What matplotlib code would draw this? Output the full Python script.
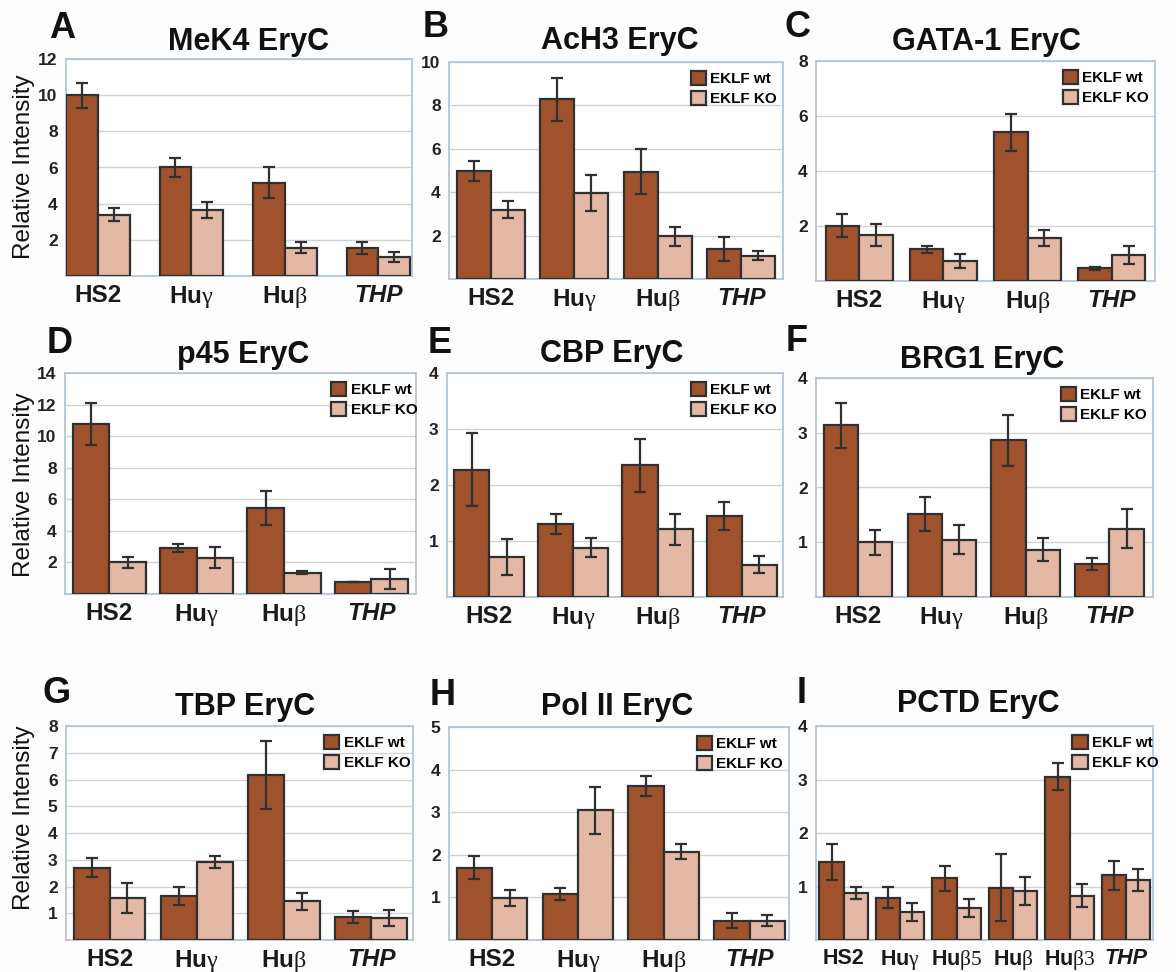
import matplotlib
matplotlib.use("Agg")
import matplotlib.pyplot as plt
import numpy as np

plt.rcParams['font.family'] = ['Liberation Sans', 'DejaVu Sans']
plt.rcParams['mathtext.fontset'] = 'custom'
plt.rcParams['mathtext.rm'] = 'Liberation Serif'
plt.rcParams['mathtext.it'] = 'Liberation Serif:italic'
plt.rcParams['mathtext.bf'] = 'Liberation Sans:bold'

# ---------------- data ----------------
categories4 = ["HS2", "Huγ", "Huβ", "THP"]
categories6 = ["HS2", "Huγ", "Huβ5", "Huβ", "Huβ3", "THP"]
series_labels = ["EKLF wt", "EKLF KO"]

mek4_wt = [10.0, 6.0, 5.15, 1.55]
mek4_wt_err = [0.7, 0.5, 0.85, 0.35]
mek4_ko = [3.4, 3.65, 1.57, 1.05]
mek4_ko_err = [0.37, 0.43, 0.3, 0.25]

ach3_wt = [4.98, 8.28, 4.95, 1.38]
ach3_wt_err = [0.48, 1.0, 1.05, 0.55]
ach3_ko = [3.2, 3.95, 1.96, 1.07]
ach3_ko_err = [0.4, 0.82, 0.45, 0.2]

gata1_wt = [2.01, 1.16, 5.4, 0.46]
gata1_wt_err = [0.42, 0.13, 0.69, 0.05]
gata1_ko = [1.67, 0.73, 1.57, 0.94]
gata1_ko_err = [0.41, 0.24, 0.3, 0.32]

p45_wt = [10.77, 2.9, 5.45, 0.76]
p45_wt_err = [1.35, 0.25, 1.05, 0.03]
p45_ko = [2.0, 2.3, 1.35, 0.95]
p45_ko_err = [0.36, 0.68, 0.1, 0.63]

cbp_wt = [2.27, 1.3, 2.35, 1.45]
cbp_wt_err = [0.65, 0.18, 0.47, 0.25]
cbp_ko = [0.72, 0.88, 1.21, 0.58]
cbp_ko_err = [0.32, 0.17, 0.28, 0.16]

brg1_wt = [3.14, 1.52, 2.86, 0.6]
brg1_wt_err = [0.41, 0.31, 0.47, 0.11]
brg1_ko = [1.0, 1.05, 0.86, 1.25]
brg1_ko_err = [0.23, 0.27, 0.21, 0.35]

tbp_wt = [2.7, 1.65, 6.17, 0.85]
tbp_wt_err = [0.36, 0.33, 1.28, 0.22]
tbp_ko = [1.58, 2.93, 1.45, 0.83]
tbp_ko_err = [0.56, 0.22, 0.32, 0.31]

pol2_wt = [1.7, 1.08, 3.62, 0.45]
pol2_wt_err = [0.27, 0.14, 0.24, 0.18]
pol2_ko = [0.98, 3.04, 2.07, 0.45]
pol2_ko_err = [0.19, 0.55, 0.18, 0.13]

pctd_wt = [1.46, 0.79, 1.15, 0.98, 3.05, 1.21]
pctd_wt_err = [0.33, 0.2, 0.24, 0.62, 0.25, 0.27]
pctd_ko = [0.88, 0.53, 0.6, 0.92, 0.83, 1.12]
pctd_ko_err = [0.11, 0.17, 0.17, 0.26, 0.22, 0.2]

# ---------------- style ----------------
W, H = 1176, 972
WT_COLOR = "#A0522D"
KO_COLOR = "#E3B9A5"
EDGE = "#303030"
SPINE = "#B4C6D6"
GRID = "#D2D2D2"

fig = plt.figure(figsize=(W / 100, H / 100), dpi=100, facecolor="#FDFDFD")


def fx(x):
    return x / W


def fy(y):
    return 1 - y / H


def fmt_cat(c):
    if c.startswith("Hu") and len(c) > 2:
        return "Hu$\\mathrm{" + c[2:] + "}$"
    return c


panels = [
    # letter, title, cats, wt, wt_err, ko, ko_err, ymax, yticks, rect(l,t,r,b), xlim, width, legend x-anchor, title pos, letter pos
    ("A", "MeK4 EryC", categories4, mek4_wt, mek4_wt_err, mek4_ko, mek4_ko_err, 12, [2, 4, 6, 8, 10, 12],
     (66, 59, 412, 276), (-0.34, 3.36), 0.34, None, (249, 50), (49, 38)),
    ("B", "AcH3 EryC", categories4, ach3_wt, ach3_wt_err, ach3_ko, ach3_ko_err, 10, [2, 4, 6, 8, 10],
     (449, 62, 783, 279), (-0.5, 3.5), 0.41, 1.01, (620, 49), (423, 37)),
    ("C", "GATA-1 EryC", categories4, gata1_wt, gata1_wt_err, gata1_ko, gata1_ko_err, 8, [2, 4, 6, 8],
     (816, 61, 1155, 281), (-0.515, 3.515), 0.40, 1.01, (986, 50), (784, 37)),
    ("D", "p45 EryC", categories4, p45_wt, p45_wt_err, p45_ko, p45_ko_err, 14, [2, 4, 6, 8, 10, 12, 14],
     (65, 373, 416, 594), (-0.507, 3.51), 0.42, 1.03, (243, 363), (47, 353)),
    ("E", "CBP EryC", categories4, cbp_wt, cbp_wt_err, cbp_ko, cbp_ko_err, 4, [1, 2, 3, 4],
     (447, 373, 783, 597), (-0.5, 3.49), 0.416, 1.01, (612, 362), (428, 353)),
    ("F", "BRG1 EryC", categories4, brg1_wt, brg1_wt_err, brg1_ko, brg1_ko_err, 4, [1, 2, 3, 4],
     (816, 378, 1153, 597), (-0.5, 3.52), 0.408, 1.01, (982, 368), (786, 351)),
    ("G", "TBP EryC", categories4, tbp_wt, tbp_wt_err, tbp_ko, tbp_ko_err, 8, [1, 2, 3, 4, 5, 6, 7, 8],
     (66, 726, 413, 940), (-0.5, 3.48), 0.41, 1.02, (245, 715), (42, 703)),
    ("H", "Pol II EryC", categories4, pol2_wt, pol2_wt_err, pol2_ko, pol2_ko_err, 5, [1, 2, 3, 4, 5],
     (449, 727, 789, 940), (-0.5, 3.46), 0.41, 1.01, (617, 715), (430, 705)),
    ("I", "PCTD EryC", categories6, pctd_wt, pctd_wt_err, pctd_ko, pctd_ko_err, 4, [1, 2, 3, 4],
     (816, 726, 1153, 940), (-0.49, 5.475), 0.43, 1.045, (978, 712), (797, 703)),
]

for (letter, title, cats, wt, wt_err, ko, ko_err, ymax, yticks, rect, xlim, w,
     leg_x, tpos, lpos) in panels:
    l, t, r, b = rect
    ax = fig.add_axes([fx(l), fy(b), (r - l) / W, (b - t) / H])
    ax.set_facecolor("white")
    x = np.arange(len(cats))
    eb = dict(ecolor=EDGE, elinewidth=1.6, capsize=4, capthick=1.6)
    b1 = ax.bar(x - w / 2, wt, w, color=WT_COLOR, edgecolor=EDGE, linewidth=1.6,
                yerr=wt_err, error_kw=eb, label=series_labels[0], zorder=3)
    b2 = ax.bar(x + w / 2, ko, w, color=KO_COLOR, edgecolor=EDGE, linewidth=1.6,
                yerr=ko_err, error_kw=eb, label=series_labels[1], zorder=3)
    ax.set_xlim(*xlim)
    ax.set_ylim(0, ymax)
    ax.set_yticks(yticks)
    ax.set_yticklabels([str(v) for v in yticks], fontsize=12.5, fontweight="bold")
    ax.yaxis.grid(True, color=GRID, linewidth=1.0, zorder=0)
    ax.set_axisbelow(True)
    ax.tick_params(axis="y", length=0, pad=6, colors="#222222")
    ax.tick_params(axis="x", length=0, pad=6)
    ax.set_xticks(x)
    ax.set_xticklabels([fmt_cat(c) for c in cats],
                       fontsize=17.5 if len(cats) == 4 else 15.5, fontweight="bold")
    for lab, c in zip(ax.get_xticklabels(), cats):
        lab.set_color("#1a1a1a")
        if c == "THP":
            lab.set_fontstyle("italic")
    for sp in ax.spines.values():
        sp.set_color(SPINE)
        sp.set_linewidth(1.3)
    if leg_x is not None:
        ax.legend(handles=[b1, b2], loc="upper right", bbox_to_anchor=(leg_x, 1.0),
                  borderaxespad=0.2, frameon=False, handlelength=1.0, handleheight=1.05,
                  handletextpad=0.3, labelspacing=0.3,
                  prop=dict(family="Liberation Sans", weight="bold", size=11))
    fig.text(fx(tpos[0]), fy(tpos[1]), title, ha="center", va="baseline",
             fontsize=22, fontweight="bold", color="#111111")
    fig.text(fx(lpos[0]), fy(lpos[1]), letter, ha="left", va="baseline",
             fontsize=26, fontweight="bold", color="#111111")

for yc in (167, 485, 818):
    fig.text(fx(24), fy(yc), "Relative Intensity", rotation=90, ha="center", va="center",
             fontsize=17.5, color="#111111")

fig.savefig("out.png", dpi=100, facecolor=fig.get_facecolor())
